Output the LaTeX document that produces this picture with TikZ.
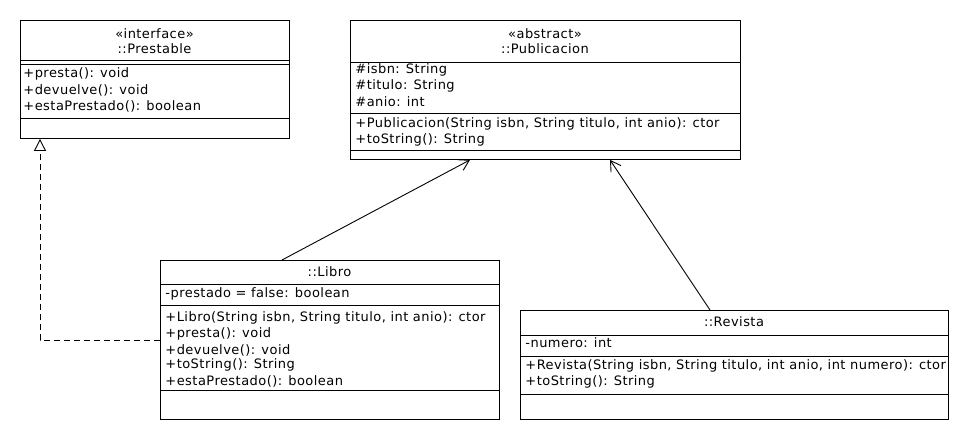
\documentclass[tikz,border=0pt]{standalone}
\usepackage{fontspec}
\setmainfont{DejaVu Sans}[LetterSpace=3.5]
\usetikzlibrary{arrows.meta}
\begin{document}
\begin{tikzpicture}[x=1pt,y=-1pt,
  every path/.style={line width=0.9pt},
  box/.style={draw, line width=0.9pt, inner sep=0pt, anchor=north west},
  txt/.style={anchor=west, inner sep=0pt, font=\fontsize{13}{15}\selectfont},
  ctxt/.style={anchor=center, inner sep=0pt, font=\fontsize{13}{15}\selectfont},
  gen/.style={-{Straight Barb[length=10pt,width=12pt]}},
  real/.style={dash pattern=on 6pt off 4pt, -{Triangle[open,length=12pt,width=12pt]}}]
\useasboundingbox (0,0) rectangle (980,440);
\fill[white] (0,0) rectangle (980,440);

% Prestable
\node[box, minimum width=269pt, minimum height=118pt] (prest) at (20,20) {};
\draw (20,60) -- (289,60);
\draw (20,64) -- (289,64);
\draw (20,118) -- (289,118);
\node[ctxt] (prestS) at (154.5,34) {«interface»};
\node[ctxt] (prestN) at (154.5,49) {::Prestable};
\node[txt] (prestM1) at (23,74) {+presta(): void};
\node[txt] (prestM2) at (23,90) {+devuelve(): void};
\node[txt] (prestM3) at (23,106) {+estaPrestado(): boolean};

% Publicacion
\node[box, minimum width=390pt, minimum height=139pt] (publ) at (350,20) {};
\draw (350,62) -- (740,62);
\draw (350,113) -- (740,113);
\draw (350,150) -- (740,150);
\node[ctxt] (publS) at (545,34) {«abstract»};
\node[ctxt] (publN) at (545,49) {::Publicacion};
\node[txt] (publA1) at (355,70) {\#isbn: String};
\node[txt] (publA2) at (355,86) {\#titulo: String};
\node[txt] (publA3) at (355,102) {\#anio: int};
\node[txt] (publM1) at (355,124) {+Publicacion(String isbn, String titulo, int anio): ctor};
\node[txt] (publM2) at (355,140) {+toString(): String};

% Libro
\node[box, minimum width=339pt, minimum height=159pt] (libro) at (160,260) {};
\draw (160,284) -- (499,284);
\draw (160,305) -- (499,305);
\draw (160,390) -- (499,390);
\node[ctxt] (libroN) at (329.5,272) {::Libro};
\node[txt] (libroA1) at (165,294) {-prestado = false: boolean};
\node[txt] (libroM1) at (165,318) {+Libro(String isbn, String titulo, int anio): ctor};
\node[txt] (libroM2) at (165,334) {+presta(): void};
\node[txt] (libroM3) at (165,350) {+devuelve(): void};
\node[txt] (libroM4) at (165,365) {+toString(): String};
\node[txt] (libroM5) at (165,381) {+estaPrestado(): boolean};

% Revista
\node[box, minimum width=428pt, minimum height=109pt] (rev) at (520,310) {};
\draw (520,335) -- (948,335);
\draw (520,356) -- (948,356);
\draw (520,394) -- (948,394);
\node[ctxt] (revN) at (734,322) {::Revista};
\node[txt] (revA1) at (525,343) {-numero: int};
\node[txt] (revM1) at (525,366) {+Revista(String isbn, String titulo, int anio, int numero): ctor};
\node[txt] (revM2) at (525,382) {+toString(): String};

% connectors
\coordinate (pb) at ([xshift=20pt]prest.south west);
\draw[real] (libro.west) -| (pb);
\draw[gen] ([xshift=122pt]libro.north west) -- ([xshift=120pt]publ.south west);
\draw[gen] ([xshift=190pt]rev.north west) -- ([xshift=260pt]publ.south west);
\end{tikzpicture}
\end{document}
